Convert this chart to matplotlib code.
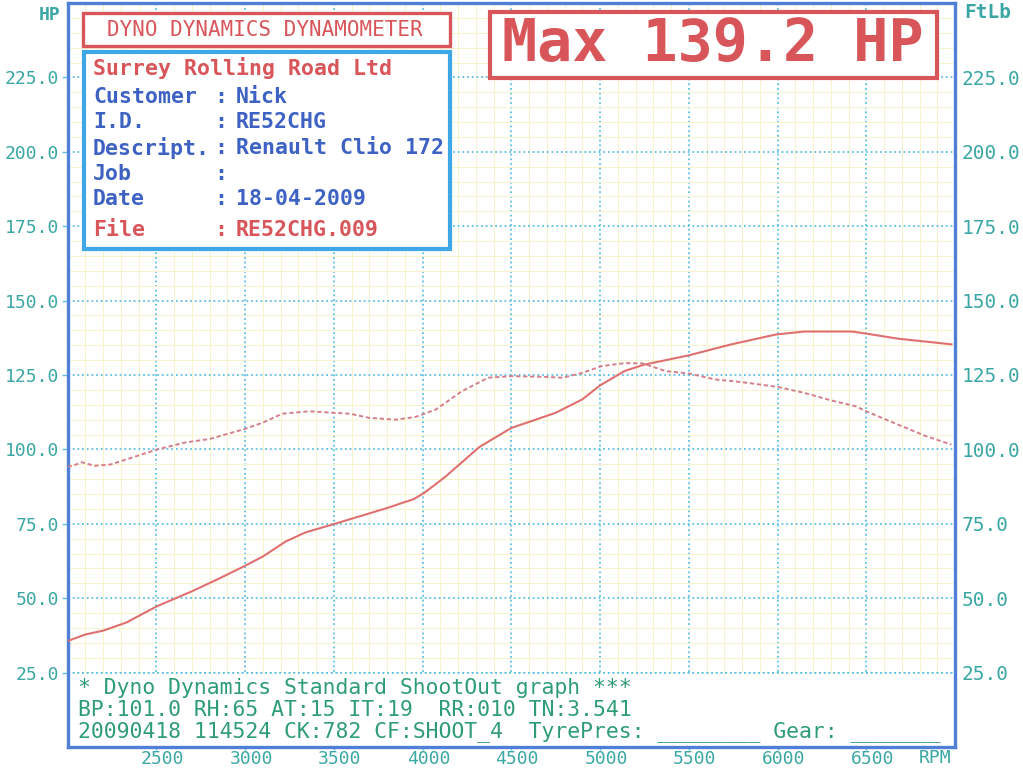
import matplotlib.pyplot as plt
from matplotlib.patches import Rectangle
from matplotlib.ticker import MultipleLocator
import matplotlib.transforms as mtransforms

# power curve (HP)
power_rpm = [2000, 2100, 2200, 2330, 2500, 2700, 2850, 3000, 3100, 3230, 3340, 3500,
             3650, 3800, 3950, 4010, 4130, 4320, 4500, 4750, 4900, 5000, 5140, 5250,
             5500, 5740, 5990, 6150, 6420, 6500, 6680, 6870, 6980]
power_hp = [35.6, 37.8, 39.1, 41.8, 47.2, 52.3, 56.5, 60.9, 64.0, 69.1, 72.1, 74.9,
            77.6, 80.3, 83.3, 85.4, 90.9, 100.8, 107.2, 112.3, 116.8, 121.5, 126.4, 128.5,
            131.6, 135.3, 138.6, 139.6, 139.6, 138.9, 137.2, 136.0, 135.3]

# torque curve (FtLb)
torque_rpm = [2000, 2030, 2080, 2150, 2240, 2330, 2500, 2660, 2800, 3000, 3100, 3210,
              3360, 3500, 3590, 3700, 3850, 3960, 4075, 4220, 4370, 4500, 4670, 4790,
              4900, 5010, 5140, 5240, 5370, 5500, 5650, 5800, 6000, 6150, 6300, 6440,
              6500, 6680, 6830, 6980]
torque_ftlb = [94.2, 94.5, 95.7, 94.5, 94.9, 96.6, 99.9, 102.3, 103.5, 106.9, 109.0, 112.0,
               112.8, 112.3, 112.0, 110.6, 110.0, 110.9, 113.4, 119.5, 124.1, 124.6, 124.4, 124.1,
               125.7, 128.0, 129.0, 128.9, 126.3, 125.5, 123.5, 122.6, 121.0, 119.0, 116.5, 114.5,
               112.8, 108.3, 104.6, 101.6]

rpm_ticks = [2500, 3000, 3500, 4000, 4500, 5000, 5500, 6000, 6500]
y_ticks = [25, 50, 75, 100, 125, 150, 175, 200, 225]

info_labels = ['Customer', 'I.D.', 'Descript.', 'Job', 'Date']
info_values = ['Nick', 'RE52CHG', 'Renault Clio 172', '', '18-04-2009']
footer = ['* Dyno Dynamics Standard ShootOut graph ***',
          'BP:101.0 RH:65 AT:15 IT:19  RR:010 TN:3.541',
          '20090418 114524 CK:782 CF:SHOOT_4  TyrePres: ________ Gear: _______']

RED = '#d8555a'
BLUE = '#3d62c4'
TEAL = '#3aa7a4'
GREEN = '#2f9c78'
FRAME = '#4f7fd6'
CYAN = '#5cc0e2'
MONO = 'DejaVu Sans Mono'

W, H = 1023, 768
fig = plt.figure(figsize=(W / 100, H / 100), dpi=100)
fig.patch.set_facecolor('white')
ax = fig.add_axes([67.6 / W, 21 / H, (955 - 67.6) / W, (765 - 21) / H])

ax.set_xlim(2000, 7000)
ax.set_ylim(0, 250)
ax.set_axisbelow(True)
ax.xaxis.set_minor_locator(MultipleLocator(100))
ax.yaxis.set_minor_locator(MultipleLocator(5))
ax.set_xticks(rpm_ticks)
ax.set_yticks(y_ticks)
ax.grid(which='minor', color='#f6f3cc', linewidth=0.7)
ax.grid(which='major', color=CYAN, linewidth=1.3, linestyle=(0, (1, 1.6)))

for s in ax.spines.values():
    s.set_color(FRAME)
    s.set_linewidth(2.4)

ax.tick_params(which='minor', length=0)
ax.tick_params(which='major', length=4, color=CYAN, width=1)
ax.set_xticklabels([str(v) for v in rpm_ticks], fontsize=13, color=TEAL, family=MONO)
ax.set_yticklabels([f'{v:.1f}' for v in y_ticks], fontsize=13, color=TEAL, family=MONO)
ax.tick_params(axis='x', pad=0, length=2)
ax.tick_params(axis='y', pad=2)
shift = mtransforms.ScaledTranslation(6 / 100, 0, fig.dpi_scale_trans)
for lab in ax.get_xticklabels():
    lab.set_transform(lab.get_transform() + shift)

ax2 = ax.twinx()
ax2.set_ylim(0, 250)
ax2.set_yticks(y_ticks)
ax2.set_yticklabels([f'{v:.1f}' for v in y_ticks], fontsize=14, color=TEAL, family=MONO)
ax2.tick_params(length=0, pad=5)
for s in ax2.spines.values():
    s.set_visible(False)

# white strip for the footer text
ax.add_patch(Rectangle((2000, 0), 5000, 25, facecolor='white', edgecolor='none', zorder=1))
ax.axhline(25, color=CYAN, linewidth=1.3, linestyle=(0, (1, 1.6)), zorder=1.5)

ax.plot(power_rpm, power_hp, color='#e07070', linewidth=1.5, zorder=3)
ax2.plot(torque_rpm, torque_ftlb, color='#d4808c', linewidth=1.4,
         linestyle=(0, (2.2, 1.4)), zorder=3)

fy = [688, 710, 732]
for y, line in zip(fy, footer):
    fig.text(78 / W, 1 - y / H, line, fontsize=15.4, color=GREEN, family=MONO, va='center')

fig.text(935 / W, 1 - 758 / H, 'RPM', fontsize=13, color=TEAL, family=MONO,
         ha='center', va='center')
fig.text(50 / W, 1 - 15 / H, 'HP', fontsize=13, color=TEAL, family=MONO,
         ha='center', va='center', weight='bold')
fig.text(988 / W, 1 - 13 / H, 'FtLb', fontsize=14, color=TEAL, family=MONO,
         ha='center', va='center', weight='bold')


def fig_box(x0, y0, x1, y1, color, lw):
    fig.add_artist(Rectangle((x0 / W, 1 - y1 / H), (x1 - x0) / W, (y1 - y0) / H,
                             transform=fig.transFigure, facecolor='white',
                             edgecolor=color, linewidth=lw))


fig_box(83, 13, 450, 46, RED, 2.4)
fig.text(265 / W, 1 - 30 / H, 'DYNO DYNAMICS DYNAMOMETER', fontsize=15, color=RED,
         family=MONO, ha='center', va='center')

fig_box(84, 52, 450, 249, '#3fa7e6', 3)
fig.text(93 / W, 1 - 68 / H, 'Surrey Rolling Road Ltd', fontsize=15.5, color=RED,
         family=MONO, va='center', weight='bold')
for i, (lab, val) in enumerate(zip(info_labels, info_values)):
    y = 97 + i * 25.5
    fig.text(93 / W, 1 - y / H, lab, fontsize=15.5, color=BLUE, family=MONO, va='center',
             weight='bold')
    fig.text(214 / W, 1 - y / H, ':', fontsize=15.5, color=BLUE, family=MONO, va='center',
             weight='bold')
    fig.text(236 / W, 1 - y / H, val, fontsize=15.5, color=BLUE, family=MONO, va='center',
             weight='bold')
fig.text(93 / W, 1 - 230 / H, 'File', fontsize=15.5, color=RED, family=MONO, va='center',
         weight='bold')
fig.text(214 / W, 1 - 230 / H, ':', fontsize=15.5, color=RED, family=MONO, va='center',
         weight='bold')
fig.text(236 / W, 1 - 230 / H, 'RE52CHG.009', fontsize=15.5, color=RED, family=MONO,
         va='center', weight='bold')

fig_box(490, 12, 937, 78, RED, 3)
fig.text(713 / W, 1 - 45 / H, f'Max {max(power_hp) - 0.4:.1f} HP', fontsize=42, color=RED,
         family=MONO, ha='center', va='center', weight='bold')

fig.savefig('out.png', dpi=100)
